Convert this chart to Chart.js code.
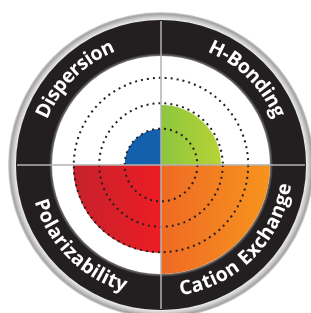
<!DOCTYPE html>
<html>
<head>
<meta charset="utf-8">
<script src="https://cdn.jsdelivr.net/npm/chart.js@4/dist/chart.umd.min.js"></script>
<style>
  html, body { margin: 0; padding: 0; background: #fff; }
  #wrap { width: 311px; height: 313px; }
</style>
</head>
<body>
<div id="wrap"><canvas id="myChart" width="311" height="313"></canvas></div>
<script>
// quadrants, clockwise from 9 o'clock
let labels = ['Dispersion', 'H-Bonding', 'Cation Exchange', 'Polarizability'];
let values = [1.0, 1.65, 3.0, 2.42];
let gridRings = [1, 1.7, 2.4];
let scaleMax = 3;

let colorFrom = ['#1560ad', '#8cc63f', '#ef6a24', '#c5222d'];
let colorTo = ['#1560ad', '#b6d334', '#f7941d', '#ed1c24'];

let ctx = document.getElementById('myChart').getContext('2d');

// horizontal gradient across each quadrant
function fillFor(context) {
    let chart = context.chart;
    let i = context.dataIndex;
    let scale = chart.scales.r;
    if (!chart.chartArea || !scale) return colorTo[i];
    let cx = scale.xCenter;
    let r = scale.getDistanceFromCenterForValue(values[i]);
    let left = (i === 0 || i === 3);
    let g = chart.ctx.createLinearGradient(left ? cx - r : cx, 0, left ? cx : cx + r, 0);
    g.addColorStop(0, colorFrom[i]);
    g.addColorStop(1, colorTo[i]);
    return g;
}

function arcText(c, text, cx, cy, r, mid, top) {
    let total = c.measureText(text).width;
    let a = top ? mid - total / (2 * r) : mid + total / (2 * r);
    for (let ch of text) {
        let w = c.measureText(ch).width;
        let ang = top ? a + w / (2 * r) : a - w / (2 * r);
        c.save();
        c.translate(cx + r * Math.cos(ang), cy + r * Math.sin(ang));
        c.rotate(top ? ang + Math.PI / 2 : ang - Math.PI / 2);
        c.fillText(ch, 0, 0);
        c.restore();
        a = top ? a + w / r : a - w / r;
    }
}

let ringPlugin = {
    id: 'ring',
    beforeDraw(chart) {
        let c = chart.ctx;
        let s = chart.scales.r;
        let cx = s.xCenter, cy = s.yCenter;
        c.save();
        // silver rim
        let sg = c.createRadialGradient(cx, cy, 143, cx, cy, 153);
        sg.addColorStop(0, '#6e6e6e');
        sg.addColorStop(0.25, '#e8e8e8');
        sg.addColorStop(0.55, '#c6c6c6');
        sg.addColorStop(0.8, '#a2a2a2');
        sg.addColorStop(1, '#dadada');
        c.beginPath();
        c.arc(cx, cy, 153, 0, Math.PI * 2);
        c.fillStyle = sg;
        c.fill();
        // black band
        c.beginPath();
        c.arc(cx, cy, 145, 0, Math.PI * 2);
        c.fillStyle = '#231f20';
        c.fill();
        // inner bevel
        let bg = c.createRadialGradient(cx, cy, 108, cx, cy, 112);
        bg.addColorStop(0, '#9a9a9a');
        bg.addColorStop(1, '#231f20');
        c.beginPath();
        c.arc(cx, cy, 112, 0, Math.PI * 2);
        c.fillStyle = bg;
        c.fill();
        c.beginPath();
        c.arc(cx, cy, 109, 0, Math.PI * 2);
        c.fillStyle = '#fff';
        c.fill();
        // curved labels
        c.fillStyle = '#fff';
        c.font = 'bold 19.5px "Open Sans"';
        c.textAlign = 'center';
        c.textBaseline = 'middle';
        labels.forEach((lab, i) => {
            let mid = Math.PI + (i + 0.5) * Math.PI / 2;
            let top = Math.sin(mid) < 0;
            arcText(c, lab, cx, cy, top ? 128 : 126, mid, top);
        });
        c.restore();
    },
    afterDraw(chart) {
        let c = chart.ctx;
        let s = chart.scales.r;
        let cx = s.xCenter, cy = s.yCenter;
        c.save();
        c.strokeStyle = '#b3b3b3';
        c.lineWidth = 1.5;
        c.beginPath();
        c.moveTo(cx - 144, cy);
        c.lineTo(cx + 144, cy);
        c.moveTo(cx, cy - 144);
        c.lineTo(cx, cy + 144);
        c.stroke();
        c.restore();
    }
};

let myChart = new Chart(ctx, {
    type: 'polarArea',
    data: {
        labels: labels,
        datasets: [{
            data: values,
            backgroundColor: fillFor,
            borderWidth: 0
        }]
    },
    options: {
        responsive: false,
        animation: false,
        layout: {
            padding: { left: 52, right: 41, top: 56, bottom: 39 }
        },
        plugins: {
            legend: { display: false },
            tooltip: { enabled: false }
        },
        scales: {
            r: {
                min: 0,
                max: scaleMax,
                startAngle: -90,
                afterBuildTicks: (scale) => {
                    scale.ticks = [0].concat(gridRings).map(v => ({ value: v }));
                },
                ticks: { display: false },
                pointLabels: { display: false },
                angleLines: { display: false },
                grid: {
                    z: 1,
                    circular: true,
                    color: '#231f20',
                    lineWidth: 2
                },
                border: { dash: [2, 4] }
            }
        }
    },
    plugins: [ringPlugin]
});
</script>
</body>
</html>
